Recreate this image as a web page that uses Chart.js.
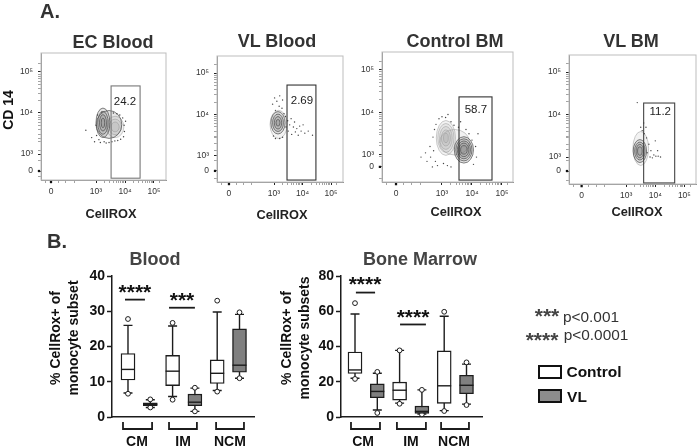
<!DOCTYPE html>
<html>
<head>
<meta charset="utf-8">
<script src="https://cdn.jsdelivr.net/npm/chart.js@4"></script>
<style>
    html, body { margin: 0; background: #fff; }
    #page { position: relative; width: 700px; height: 447px; overflow: hidden; font-family: "Liberation Sans", Arial, sans-serif; }
    #page canvas { position: absolute; left: 0; top: 0; }
    .lbl { position: absolute; white-space: nowrap; line-height: 1; }
    .swatch { position: absolute; box-sizing: border-box; border: 2px solid #111; }
</style>
</head>
<body>
<div id="page"></div>
<script>
// box plot values. order: CM ctrl, CM VL, IM ctrl, IM VL, NCM ctrl, NCM VL
const boxSlots = [1, 2, 3, 4, 5, 6];
const subsets = ['CM', 'IM', 'NCM'];

const bloodWhiskHigh = [26, 4.9, 25.8, 8.2, 29.8, 29.1];
const bloodQ3 = [18, 4, 17.5, 6.5, 16.2, 25];
const bloodMedian = [13.5, 3.6, 13, 4.2, 12.4, 14.7];
const bloodQ1 = [10.5, 3.2, 8.9, 3.2, 9.5, 12.7];
const bloodWhiskLow = [6.8, 2.7, 5.8, 1.6, 7.5, 11];
const bloodOutHigh = [27.8, 5, 26.7, 8.3, 33, 29.7];
const bloodOutLow = [6.6, 2.7, 4.9, 1.6, 7.2, 11];

const marrowWhiskHigh = [58.4, 24.8, 37.8, 15.4, 57.2, 30];
const marrowQ3 = [36.9, 18.8, 19.8, 6.2, 37.5, 23.7];
const marrowMedian = [26.7, 14.5, 15.2, 3.2, 17.7, 18];
const marrowQ1 = [24.7, 10.9, 9.6, 2.1, 7.7, 13.2];
const marrowWhiskLow = [22, 4, 7.9, 1.7, 3.6, 7.3];
const marrowOutHigh = [64.6, 25.6, 37.8, 15.4, 59.7, 31];
const marrowOutLow = [21.6, 2.3, 7.5, 1.5, 3.4, 6.8];

// flow plots: axis units are log10 of the signal, gate = [x0, x1, y0, y1]
const logTicks = [3, 4, 5];
const logTickLabels = ['10³', '10⁴', '10⁵'];
const minorTicks = [3.3, 3.48, 3.6, 3.7, 3.78, 3.85, 3.9, 3.95, 4.3, 4.48, 4.6, 4.7, 4.78, 4.85, 4.9, 4.95, 5.2];

const ecGate = [3.52, 4.52, 2.41, 4.66];
const ecDarkRings = [[3.45, 3.72, 0.44, 0.34], [3.24, 3.76, 0.24, 0.36], [3.24, 3.76, 0.18, 0.28], [3.24, 3.76, 0.12, 0.2], [3.24, 3.76, 0.06, 0.12]];
const ecLightRings = [[3.66, 3.66, 0.3, 0.26], [3.66, 3.66, 0.22, 0.19], [3.66, 3.66, 0.14, 0.12]];
const ecDots = [[2.65, 3.58], [2.85, 3.4], [2.95, 3.3], [3.0, 3.7], [3.02, 3.45], [3.05, 3.95], [3.1, 3.35], [3.15, 3.28], [3.2, 4.02], [3.28, 3.3], [3.35, 3.27], [3.45, 3.28], [3.55, 3.3], [3.65, 3.32], [3.75, 3.33], [3.85, 3.36], [3.6, 4.0], [3.72, 3.98], [3.82, 3.95], [3.92, 3.88], [3.97, 3.7], [3.98, 3.55], [3.95, 3.42], [4.02, 3.8]];

const vlGate = [3.456, 4.47, 2.42, 4.71];
const vlDarkRings = [[3.14, 3.8, 0.25, 0.27], [3.14, 3.8, 0.19, 0.21], [3.14, 3.8, 0.13, 0.15], [3.14, 3.8, 0.07, 0.08]];
const vlLightRings = [[3.16, 3.76, 0.3, 0.34]];
const vlDots = [[2.95, 4.25], [3.02, 4.4], [3.05, 4.1], [3.1, 4.32], [3.18, 4.2], [3.2, 4.45], [3.28, 4.15], [3.3, 4.35], [3.35, 4.02], [3.4, 3.95], [3.42, 3.7], [3.48, 3.85], [3.5, 3.6], [3.55, 3.75], [3.6, 3.9], [3.62, 3.52], [3.68, 3.7], [3.72, 3.82], [3.75, 3.58], [3.8, 3.66], [3.85, 3.5], [3.9, 3.72], [3.95, 3.6], [4.02, 3.75], [4.08, 3.55], [4.2, 3.6], [4.35, 3.5], [2.98, 3.48], [3.05, 3.42], [3.2, 3.42], [3.3, 3.45]];

const bmGate = [3.567, 4.667, 2.41, 4.365];
const bmDarkRings = [[3.73, 3.12, 0.32, 0.31], [3.73, 3.12, 0.27, 0.26], [3.73, 3.12, 0.22, 0.21], [3.73, 3.12, 0.17, 0.16], [3.73, 3.12, 0.11, 0.1]];
const bmLightRings = [[3.13, 3.4, 0.32, 0.41], [3.13, 3.4, 0.27, 0.34], [3.13, 3.4, 0.21, 0.27], [3.13, 3.4, 0.15, 0.19], [3.13, 3.4, 0.08, 0.11], [3.42, 3.3, 0.5, 0.3]];
const bmDots = [[2.3, 2.95], [2.45, 3.05], [2.5, 2.85], [2.6, 3.2], [2.62, 2.95], [2.68, 2.72], [2.7, 3.42], [2.72, 3.1], [2.78, 2.85], [2.75, 3.6], [2.8, 3.72], [2.85, 2.75], [2.9, 3.85], [3.0, 3.9], [3.05, 2.8], [3.12, 3.88], [3.2, 3.95], [3.3, 3.78], [3.4, 3.7], [3.55, 3.65], [3.62, 3.78], [3.8, 3.6], [3.9, 3.5], [4.0, 3.35], [4.12, 3.2], [4.15, 2.95], [4.05, 2.78], [4.2, 3.5], [3.3, 2.72], [3.18, 2.75]];

const vlBmGate = [3.6, 4.667, 2.39, 4.27];
const vlBmDarkRings = [[3.47, 3.14, 0.23, 0.27], [3.47, 3.14, 0.18, 0.21], [3.47, 3.14, 0.13, 0.16], [3.47, 3.14, 0.08, 0.1]];
const vlBmLightRings = [[3.5, 3.2, 0.27, 0.4]];
const vlBmDots = [[3.38, 4.28], [3.5, 3.7], [3.55, 3.62], [3.62, 3.55], [3.7, 3.45], [3.78, 3.3], [3.85, 3.15], [3.9, 2.98], [3.95, 3.05], [4.02, 3.02], [4.1, 3.02], [4.18, 3.0], [4.0, 3.38], [4.08, 3.15], [3.72, 3.1], [3.82, 3.0], [3.68, 3.7], [3.6, 3.8]];

const page = document.getElementById('page');

function addLabel(text, x, y, size, weight, color, rotate) {
    const el = document.createElement('div');
    el.className = 'lbl';
    el.textContent = text;
    el.style.left = x + 'px';
    el.style.top = y + 'px';
    el.style.fontSize = size + 'px';
    el.style.fontWeight = weight;
    el.style.color = color;
    el.style.transform = 'translate(-50%,-50%)' + (rotate ? ' rotate(-90deg)' : '');
    page.appendChild(el);
}

function addCanvas() {
    const c = document.createElement('canvas');
    c.width = 700;
    c.height = 447;
    page.appendChild(c);
    return c.getContext('2d');
}

// every chart gets a page sized canvas, so the plot box is given in page pixels
function plotLayout(box) {
    return { padding: { left: 0, top: box.top, right: 700 - box.right, bottom: 0 } };
}

function makeFlowChart(p) {
    const ctx = addCanvas();
    const flowPlugin = {
        id: 'flowParts',
        beforeDatasetsDraw(chart) {
            const g = chart.ctx, a = chart.chartArea, xs = chart.scales.x, ys = chart.scales.y;
            g.save();
            g.strokeStyle = '#bdbdbd';
            g.lineWidth = 1;
            g.strokeRect(a.left, a.top, a.right - a.left, a.bottom - a.top);
            const ring = function (r) {
                const rx = Math.abs(xs.getPixelForValue(r[0] + r[2]) - xs.getPixelForValue(r[0]));
                const ry = Math.abs(ys.getPixelForValue(r[1] + r[3]) - ys.getPixelForValue(r[1]));
                g.beginPath();
                g.ellipse(xs.getPixelForValue(r[0]), ys.getPixelForValue(r[1]), rx, ry, 0, 0, Math.PI * 2);
                g.fill();
                g.stroke();
            };
            g.strokeStyle = '#9a9a9a';
            g.fillStyle = 'rgba(130,130,130,0.10)';
            g.lineWidth = 0.5;
            p.lightRings.forEach(ring);
            g.strokeStyle = '#4c4c4c';
            g.fillStyle = 'rgba(110,110,110,0.18)';
            g.lineWidth = 0.7;
            p.darkRings.forEach(ring);
            g.restore();
        },
        afterDatasetsDraw(chart) {
            const g = chart.ctx, xs = chart.scales.x, ys = chart.scales.y;
            const x0 = xs.getPixelForValue(p.gate[0]), x1 = xs.getPixelForValue(p.gate[1]);
            const y0 = ys.getPixelForValue(p.gate[2]), y1 = ys.getPixelForValue(p.gate[3]);
            g.save();
            g.strokeStyle = p.gateColor;
            g.lineWidth = 1.1;
            g.strokeRect(x0, y1, x1 - x0, y0 - y1);
            g.fillStyle = '#222';
            g.font = '11.5px "Liberation Sans", Arial, sans-serif';
            g.textAlign = 'center';
            g.textBaseline = 'middle';
            g.fillText(p.gateText, xs.getPixelForValue(p.textAt[0]), ys.getPixelForValue(p.textAt[1]));
            g.restore();
        }
    };

    const tickCallback = function (zero) {
        return function (value) {
            if (value === zero) return '0';
            const i = logTicks.indexOf(value);
            return i >= 0 ? logTickLabels[i] : '';
        };
    };
    const axisTicks = function (zero, low) {
        return function (scale) {
            scale.ticks = [low, zero, zero + 0.25, zero + 0.5, zero + 0.8, ...logTicks, ...minorTicks]
                .filter(v => v > scale.min && v < scale.max).map(v => ({ value: v }));
        };
    };
    const isMajor = function (zero) {
        return c => (c.tick && (c.tick.value === zero || logTicks.includes(c.tick.value)));
    };

    return new Chart(ctx, {
        type: 'scatter',
        data: {
            datasets: [
                { data: p.dots.map(d => ({ x: d[0], y: d[1] })), pointRadius: 0.7, pointBackgroundColor: '#444', pointBorderWidth: 0 },
                { data: [{ x: p.xMin - 0.07, y: p.zeroY }, { x: p.zeroX, y: p.yMin - 0.05 }], pointStyle: 'rect', pointRadius: 1.6, pointBackgroundColor: '#111', pointBorderWidth: 0, clip: false }
            ]
        },
        plugins: [flowPlugin],
        options: {
            responsive: false,
            animation: false,
            layout: plotLayout(p.box),
            plugins: { legend: { display: false }, tooltip: { enabled: false }, title: { display: false } },
            scales: {
                x: {
                    type: 'linear', min: p.xMin, max: p.xMax,
                    afterBuildTicks: axisTicks(p.zeroX, p.xMin + 0.15),
                    afterFit: s => { s.height = 447 - p.box.bottom; },
                    border: { color: '#8a8a8a', width: 1 },
                    grid: {
                        drawOnChartArea: false, tickLength: 3,
                        tickColor: c => (isMajor(p.zeroX)(c) ? '#222' : '#666'),
                        tickWidth: c => (isMajor(p.zeroX)(c) ? 1 : 0.6)
                    },
                    ticks: { autoSkip: false, maxRotation: 0, padding: 4, color: '#333', font: { size: 8.5 }, callback: tickCallback(p.zeroX) }
                },
                y: {
                    type: 'linear', min: p.yMin, max: p.yMax,
                    afterBuildTicks: axisTicks(p.zeroY, p.yMin + 0.08),
                    afterFit: s => { s.width = p.box.left; },
                    border: { color: '#8a8a8a', width: 1 },
                    grid: {
                        drawOnChartArea: false, tickLength: 3,
                        tickColor: c => (isMajor(p.zeroY)(c) ? '#222' : '#666'),
                        tickWidth: c => (isMajor(p.zeroY)(c) ? 1 : 0.6)
                    },
                    ticks: { autoSkip: false, padding: 5, color: '#333', font: { size: 8.5 }, callback: tickCallback(p.zeroY) }
                }
            }
        }
    });
}

function makeBoxChart(p) {
    const ctx = addCanvas();
    const scaleX = (chart, v) => chart.scales.x.getPixelForValue(v);
    const scaleY = (chart, v) => chart.scales.y.getPixelForValue(v);
    const ink = '#1c1c1c';

    const boxPlugin = {
        id: 'boxParts',
        beforeDatasetsDraw(chart) {
            const g = chart.ctx;
            g.save();
            g.strokeStyle = ink;
            g.lineWidth = 1.4;
            boxSlots.forEach(function (slot, i) {
                const x = scaleX(chart, slot);
                const hi = scaleY(chart, p.whiskHigh[i]), lo = scaleY(chart, p.whiskLow[i]);
                g.beginPath();
                g.moveTo(x, hi); g.lineTo(x, lo);
                g.moveTo(x - 4.5, hi); g.lineTo(x + 4.5, hi);
                g.moveTo(x - 4.5, lo); g.lineTo(x + 4.5, lo);
                g.stroke();
            });
            g.restore();
        },
        afterDatasetsDraw(chart) {
            const g = chart.ctx;
            g.save();
            g.strokeStyle = ink;
            g.lineWidth = 1.4;
            // medians
            boxSlots.forEach(function (slot, i) {
                const x = scaleX(chart, slot), y = scaleY(chart, p.median[i]);
                g.beginPath();
                g.moveTo(x - 7, y); g.lineTo(x + 7, y);
                g.stroke();
            });
            // group brackets under the axis
            g.lineWidth = 1.8;
            const bottom = chart.chartArea.bottom;
            p.brackets.forEach(function (b) {
                const x0 = scaleX(chart, b[0]), x1 = scaleX(chart, b[1]);
                g.beginPath();
                g.moveTo(x0, bottom + 5); g.lineTo(x0, bottom + 12); g.lineTo(x1, bottom + 12); g.lineTo(x1, bottom + 5);
                g.stroke();
            });
            // significance bars
            g.fillStyle = '#111';
            g.textAlign = 'center';
            g.textBaseline = 'alphabetic';
            g.font = 'bold 21px "Liberation Sans", Arial, sans-serif';
            g.lineWidth = 1.8;
            p.sig.forEach(function (s) {
                const y = scaleY(chart, s.y);
                g.beginPath();
                g.moveTo(scaleX(chart, s.from), y); g.lineTo(scaleX(chart, s.to), y);
                g.stroke();
                g.fillText(s.stars, scaleX(chart, s.textX), scaleY(chart, s.textY));
            });
            g.restore();
        }
    };

    const boxData = idx => idx.map(i => ({ x: boxSlots[i], y: [p.q1[i], p.q3[i]] }));
    const outData = p.outHigh.concat(p.outLow).map((v, i) => ({ x: boxSlots[i % 6], y: v }));

    return new Chart(ctx, {
        type: 'bar',
        data: {
            datasets: [
                { label: 'Control', data: boxData([0, 2, 4]), backgroundColor: '#fff', borderColor: ink, borderWidth: 1.4, borderSkipped: false, barThickness: 14, grouped: false },
                { label: 'VL', data: boxData([1, 3, 5]), backgroundColor: '#808080', borderColor: ink, borderWidth: 1.4, borderSkipped: false, barThickness: 14, grouped: false },
                { type: 'scatter', label: 'outliers', data: outData, pointRadius: 2.4, pointBackgroundColor: '#fff', pointBorderColor: ink, pointBorderWidth: 1, clip: false }
            ]
        },
        plugins: [boxPlugin],
        options: {
            responsive: false,
            animation: false,
            layout: plotLayout(p.box),
            plugins: { legend: { display: false }, tooltip: { enabled: false } },
            scales: {
                x: {
                    type: 'linear', min: p.xMin, max: p.xMax, offset: false,
                    afterBuildTicks: s => { s.ticks = p.labelAt.map(v => ({ value: v })); },
                    afterFit: s => { s.height = 447 - p.box.bottom; },
                    border: { color: ink, width: 1.5 },
                    grid: { display: false, drawTicks: false },
                    ticks: {
                        autoSkip: false, maxRotation: 0, padding: 17, color: '#111',
                        font: { size: 14, weight: 'bold' },
                        callback: (v) => subsets[p.labelAt.indexOf(v)]
                    }
                },
                y: {
                    type: 'linear', min: 0, max: p.yMax,
                    afterFit: s => { s.width = p.box.left; },
                    border: { color: ink, width: 1.5 },
                    grid: { drawOnChartArea: false, tickLength: 5, tickColor: ink, tickWidth: 1.5 },
                    ticks: { stepSize: p.yStep, padding: 2, color: '#111', font: { size: 14, weight: 'bold' } }
                }
            }
        }
    });
}

Chart.defaults.font.family = '"Liberation Sans", Arial, sans-serif';

// A. flow panels
makeFlowChart({
    box: { left: 41, right: 166, top: 53, bottom: 180 },
    xMin: 1.103, xMax: 5.414, yMin: 2.366, yMax: 5.463, zeroX: 1.448, zeroY: 2.585,
    gate: ecGate, gateText: '24.2', textAt: [4.0, 4.27], gateColor: '#777',
    darkRings: ecDarkRings, lightRings: ecLightRings, dots: ecDots
});
makeFlowChart({
    box: { left: 217, right: 343, top: 56, bottom: 182 },
    xMin: 1.0, xMax: 5.42, yMin: 2.373, yMax: 5.41, zeroX: 1.42, zeroY: 2.64,
    gate: vlGate, gateText: '2.69', textAt: [3.98, 4.33], gateColor: '#333',
    darkRings: vlDarkRings, lightRings: vlLightRings, dots: vlDots
});
makeFlowChart({
    box: { left: 382, right: 513, top: 52, bottom: 182 },
    xMin: 1.0, xMax: 5.367, yMin: 2.365, yMax: 5.42, zeroX: 1.467, zeroY: 2.72,
    gate: bmGate, gateText: '58.7', textAt: [4.13, 4.06], gateColor: '#333',
    darkRings: bmDarkRings, lightRings: bmLightRings, dots: bmDots
});
makeFlowChart({
    box: { left: 569, right: 699.5, top: 55, bottom: 184 },
    xMin: 1.033, xMax: 5.4, yMin: 2.365, yMax: 5.4, zeroX: 1.467, zeroY: 2.67,
    gate: vlBmGate, gateText: '11.2', textAt: [4.17, 4.06], gateColor: '#444',
    darkRings: vlBmDarkRings, lightRings: vlBmLightRings, dots: vlBmDots
});

// B. box plots
makeBoxChart({
    box: { left: 112, right: 254, top: 276, bottom: 417 },
    xMin: 0.283, xMax: 6.65, yMax: 40, yStep: 10,
    q1: bloodQ1, q3: bloodQ3, median: bloodMedian, whiskHigh: bloodWhiskHigh, whiskLow: bloodWhiskLow,
    outHigh: bloodOutHigh, outLow: bloodOutLow,
    labelAt: [1.4, 3.47, 5.57],
    brackets: [[0.776, 2.08], [2.84, 4.09], [4.95, 6.2]],
    sig: [
        { stars: '****', from: 0.865, to: 1.76, y: 33.3, textX: 1.31, textY: 33.6 },
        { stars: '***', from: 2.84, to: 4.0, y: 31, textX: 3.42, textY: 31.3 }
    ]
});
makeBoxChart({
    box: { left: 341, right: 482, top: 276, bottom: 417 },
    xMin: 0.372, xMax: 6.695, yMax: 80, yStep: 20,
    q1: marrowQ1, q3: marrowQ3, median: marrowMedian, whiskHigh: marrowWhiskHigh, whiskLow: marrowWhiskLow,
    outHigh: marrowOutHigh, outLow: marrowOutLow,
    labelAt: [1.36, 3.51, 5.44],
    brackets: [[0.82, 2.12], [2.88, 4.18], [4.86, 6.11]],
    sig: [
        { stars: '****', from: 1.04, to: 1.9, y: 70.6, textX: 1.45, textY: 71.5 },
        { stars: '****', from: 3.02, to: 4.18, y: 52.5, textX: 3.6, textY: 52.9 }
    ]
});

// page level text
addLabel('A.', 50, 11, 20, 'bold', '#333');
addLabel('B.', 57, 241, 20, 'bold', '#333');
addLabel('EC Blood', 113, 42, 18, 'bold', '#333');
addLabel('VL Blood', 277, 41, 18, 'bold', '#333');
addLabel('Control BM', 455, 41, 18, 'bold', '#333');
addLabel('VL BM', 631, 41, 18, 'bold', '#333');
addLabel('CD 14', 8, 110, 14, 'bold', '#111', true);
addLabel('CellROX', 111, 214, 12.8, 'bold', '#222');
addLabel('CellROX', 282, 215, 12.8, 'bold', '#222');
addLabel('CellROX', 456, 212, 12.8, 'bold', '#222');
addLabel('CellROX', 637, 212, 12.8, 'bold', '#222');
addLabel('Blood', 155, 259, 18, 'bold', '#444');
addLabel('Bone Marrow', 420, 259, 18, 'bold', '#444');
addLabel('% CellRox+ of', 55, 338, 14, 'bold', '#111', true);
addLabel('monocyte subset', 73, 338, 14, 'bold', '#111', true);
addLabel('% CellRox+ of', 286, 338, 14, 'bold', '#111', true);
addLabel('monocyte subsets', 304, 338, 14, 'bold', '#111', true);
addLabel('***', 547, 315, 21, 'bold', '#444');
addLabel('p<0.001', 591, 317, 15.4, 'normal', '#333');
addLabel('****', 542, 339, 21, 'bold', '#444');
addLabel('p<0.0001', 596, 335, 15.4, 'normal', '#333');

// legend
[['#fff', 365, 'Control', 372, 594], ['#8c8c8c', 389, 'VL', 397, 577]].forEach(function (row) {
    const s = document.createElement('div');
    s.className = 'swatch';
    s.style.cssText = 'left:538px;top:' + row[1] + 'px;width:24px;height:14px;background:' + row[0];
    page.appendChild(s);
    addLabel(row[2], row[4], row[3], 15.5, 'bold', '#111');
});
</script>
</body>
</html>
